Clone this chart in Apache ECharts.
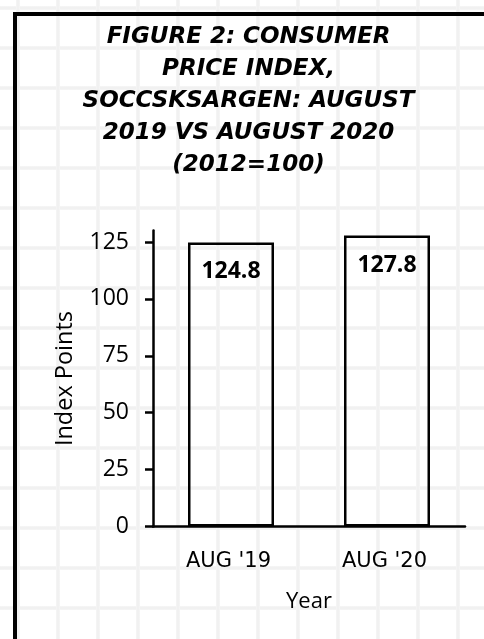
<!DOCTYPE html>
<html>
<head>
<meta charset="utf-8">
<script src="https://cdn.jsdelivr.net/npm/echarts@6/dist/echarts.min.js"></script>
<style>
  html, body { margin: 0; padding: 0; overflow: hidden; }
  body {
    width: 484px; height: 639px; position: relative;
    background-color: #ffffff;
    background-image:
      linear-gradient(to right, #f6f6f6 0px, #f1f1f1 1.5px, #f1f1f1 2.5px, #f6f6f6 4px, transparent 4px),
      linear-gradient(to bottom, #f6f6f6 0px, #f1f1f1 1.5px, #f1f1f1 2.5px, #f6f6f6 4px, transparent 4px);
    background-size: 40px 40px;
    background-position: 16px 6px;
  }
  #frame {
    position: absolute; left: 12.5px; top: 11.5px;
    width: 471.5px; height: 627.5px;
    border-left: 4px solid #000; border-top: 4px solid #000; box-sizing: border-box;
  }
  #chart { position: absolute; left: 0; top: 0; width: 484px; height: 639px; }
</style>
</head>
<body>
<div id="frame"></div>
<div id="chart"></div>
<script>
const titleText = "FIGURE 2: CONSUMER\nPRICE INDEX,\nSOCCSKSARGEN: AUGUST\n2019 VS AUGUST 2020\n(2012=100)";
const categories = ["AUG '19", "AUG '20"];
const cpiValues = [124.8, 127.8];
const yTickValues = [0, 25, 50, 75, 100, 125];
const yAxisName = "Index Points";
const xAxisName = "Year";

const chart = echarts.init(document.getElementById('chart'), null, { renderer: 'canvas' });
const font = "'Open Sans', sans-serif";
const wideFont = "'DejaVu Sans', sans-serif";
chart.setOption({
  backgroundColor: 'transparent',
  animation: false,
  title: {
    text: titleText,
    left: 243.5,
    top: 16.2,
    textAlign: 'center',
    textStyle: {
      fontFamily: wideFont, fontSize: 23, fontWeight: 'bold', fontStyle: 'italic',
      color: '#000', lineHeight: 32
    }
  },
  grid: { left: 153, right: 19, top: 230.6, bottom: 112.5, containLabel: false },
  xAxis: {
    type: 'category',
    data: categories,
    name: xAxisName,
    nameLocation: 'middle',
    nameGap: 64,
    nameTextStyle: { fontFamily: font, fontSize: 22, color: '#000' },
    axisLine: { show: true, lineStyle: { color: '#000', width: 2.5 } },
    axisTick: { show: false },
    axisLabel: {
      fontFamily: wideFont, fontSize: 21, color: '#000', margin: 25, padding: [0, 5, 0, 0]
    },
    splitLine: { show: false }
  },
  yAxis: {
    type: 'value',
    min: 0, max: 130, interval: 25,
    name: yAxisName,
    nameLocation: 'middle',
    nameGap: 76,
    nameTextStyle: { fontFamily: font, fontSize: 23.5, color: '#000' },
    axisLine: { show: true, lineStyle: { color: '#000', width: 2.5 } },
    axisTick: { show: true, length: 8, customValues: yTickValues, lineStyle: { color: '#000', width: 2.5 } },
    axisLabel: { fontFamily: font, fontSize: 23, color: '#000', margin: 24, customValues: yTickValues },
    splitLine: { show: false }
  },
  series: [{
    type: 'bar',
    data: cpiValues,
    barWidth: 86,
    itemStyle: { color: 'rgba(255,255,255,0)', borderColor: '#000', borderWidth: 2.5 },
    label: {
      show: true, position: 'insideTop', distance: 18,
      fontFamily: font, fontSize: 23, fontWeight: 'bold', color: '#000'
    }
  }]
});
</script>
</body>
</html>
